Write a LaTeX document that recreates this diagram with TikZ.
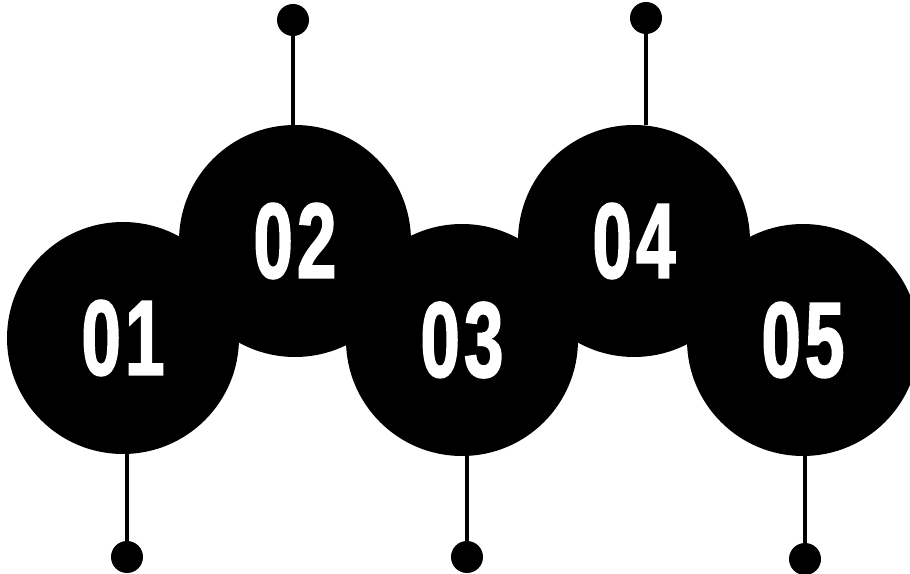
\documentclass[tikz,border=0pt]{standalone}
\usepackage{fontspec}
\usepackage{tikz}
\usetikzlibrary{positioning,calc}
\newfontfamily\numfont[FakeStretch=0.66,FakeBold=1.5,LetterSpace=4]{Liberation Sans}
\definecolor{StepBlack}{HTML}{000000}
\definecolor{StepWhite}{HTML}{ffffff}
\tikzset{
    % Big numbered disc
    stepdisc/.style={
        circle,
        fill=StepBlack,
        text=StepWhite,
        inner sep=0pt,
        minimum size=4.64cm,
        font=\numfont\bfseries\fontsize{61}{61}\selectfont
    },
    % Small end dot
    enddot/.style={
        circle,
        fill=StepBlack,
        inner sep=0pt,
        minimum size=0.64cm
    },
    % Stem line
    stemline/.style={
        line width=2.2pt,
        draw=StepBlack
    }
}
\begin{document}
\begin{tikzpicture}
        \useasboundingbox (0,0) rectangle (18.2,11.48);
        % Discs
        \node[stepdisc] (c1) at (2.46,4.72) {01};
        \node[stepdisc] (c3) at (9.24,4.68) {03};
        \node[stepdisc] (c5) at (16.06,4.68) {05};
        \node[stepdisc] (c2) at (5.90,6.66) {02};
        \node[stepdisc] (c4) at (12.68,6.66) {04};

        % End dots
        \node[enddot] (d2) at (5.86,11.08) {};
        \node[enddot] (d4) at (12.92,11.12) {};
        \node[enddot] (d1) at (2.54,0.34) {};
        \node[enddot] (d3) at (9.34,0.34) {};
        \node[enddot] (d5) at (16.10,0.30) {};

        % Stems
        \draw[stemline] (d2) -- (d2 |- c2.north);
        \draw[stemline] (d4) -- (d4 |- c4.north);
        \draw[stemline] (d1) -- (d1 |- c1.south);
        \draw[stemline] (d3) -- (d3 |- c3.south);
        \draw[stemline] (d5) -- (d5 |- c5.south);
    \end{tikzpicture}
\end{document}
